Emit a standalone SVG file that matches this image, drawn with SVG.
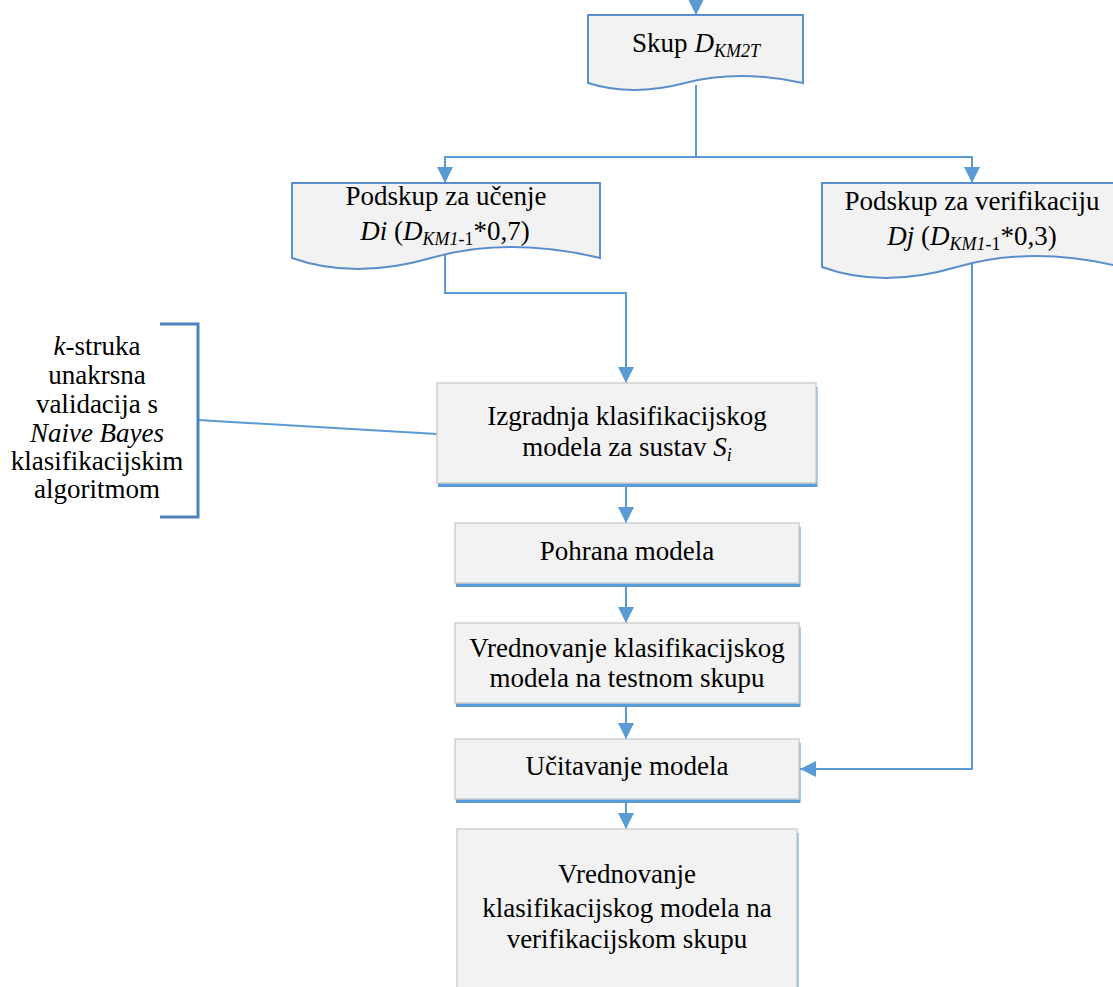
<svg xmlns="http://www.w3.org/2000/svg" width="1113" height="987" viewBox="0 0 1113 987">
<style>
.t{font-family:"Liberation Serif","Times New Roman",serif;font-size:27px;fill:#000;text-anchor:middle}
.s{font-size:18px}
.i{font-style:italic}
.doc{fill:#F2F2F2;stroke:#5B8FCB;stroke-width:2}
.box{fill:#F2F2F2;stroke:#CFCFCF;stroke-width:1.5}
.sh{fill:#5B9BD5}
.c{fill:none;stroke:#5B9BD5;stroke-width:2}
</style>
<defs>
<marker id="a" viewBox="0 0 16 16" refX="16" refY="8" markerWidth="16" markerHeight="16" markerUnits="userSpaceOnUse" orient="auto">
<path d="M0,0 L16,8 L0,16 Z" fill="#5B9BD5"/>
</marker>
</defs>
<rect width="1113" height="987" fill="#FFFFFF"/>
<g id="connectors">
<line class="c" x1="696" y1="0" x2="696" y2="15" marker-end="url(#a)"/>
<polyline class="c" points="696,85 696,157"/>
<polyline class="c" points="445,170 445,157 972,157 972,170"/>
<line class="c" x1="445" y1="160" x2="445" y2="183" marker-end="url(#a)"/>
<line class="c" x1="972" y1="160" x2="972" y2="183" marker-end="url(#a)"/>
<polyline class="c" points="445,255 445,293 626,293 626,383" marker-end="url(#a)"/>
<polyline class="c" points="972,262 972,769 800,769" marker-end="url(#a)"/>
<line class="c" x1="626" y1="487" x2="626" y2="523" marker-end="url(#a)"/>
<line class="c" x1="626" y1="587" x2="626" y2="623" marker-end="url(#a)"/>
<line class="c" x1="626" y1="707" x2="626" y2="739" marker-end="url(#a)"/>
<line class="c" x1="626" y1="803" x2="626" y2="829" marker-end="url(#a)"/>
<line x1="198" y1="420" x2="437" y2="434" stroke="#5B9BD5" stroke-width="2"/>
</g>
<g id="skup">
<path class="doc" d="M588,15 L803,15 L803,83 Q738,69 685,83 T588,83 Z"/>
<text class="t" x="696" y="52">Skup <tspan class="i">D</tspan><tspan class="i s" dy="5">KM2T</tspan></text>
</g>
<g id="ucenje">
<path class="doc" d="M292,183 L600,183 L600,258 Q508,236 431,258 T292,258 Z"/>
<text class="t" x="446" y="205">Podskup za učenje</text>
<text class="t" x="445" y="240"><tspan class="i">Di</tspan> (<tspan class="i">D</tspan><tspan class="i s" dy="5">KM1</tspan><tspan class="s">-1</tspan><tspan dy="-5">*0,7)</tspan></text>
</g>
<g id="verifikacija">
<path class="doc" d="M822,183 L1122,183 L1122,267 Q1032,245 957,267 T822,267 Z"/>
<text class="t" x="972" y="210">Podskup za verifikaciju</text>
<text class="t" x="972" y="245"><tspan class="i">Dj</tspan> (<tspan class="i">D</tspan><tspan class="i s" dy="5">KM1</tspan><tspan class="s">-1</tspan><tspan dy="-5">*0,3)</tspan></text>
</g>
<g id="bracket">
<polyline points="160,324 198,324 198,517 160,517" fill="none" stroke="#4F81BD" stroke-width="3"/>
<text class="t" x="97" y="355"><tspan class="i">k</tspan>-struka</text>
<text class="t" x="97" y="384">unakrsna</text>
<text class="t" x="97" y="413">validacija s</text>
<text class="t" x="97" y="442"><tspan class="i">Naive Bayes</tspan></text>
<text class="t" x="97" y="470">klasifikacijskim</text>
<text class="t" x="97" y="498">algoritmom</text>
</g>
<g id="izgradnja">
<rect class="sh" x="438" y="387" width="379.5" height="100"/>
<rect class="box" x="437" y="383" width="379" height="100"/>
<text class="t" x="627" y="425">Izgradnja klasifikacijskog</text>
<text class="t" x="627" y="456">modela za sustav <tspan class="i">S</tspan><tspan class="i s" dy="5">i</tspan></text>
</g>
<g id="pohrana">
<rect class="sh" x="456" y="527" width="344.5" height="60"/>
<rect class="box" x="455" y="523" width="344" height="60"/>
<text class="t" x="627" y="560">Pohrana modela</text>
</g>
<g id="vrednovanje-test">
<rect class="sh" x="456" y="627" width="344.5" height="80"/>
<rect class="box" x="455" y="623" width="344" height="80"/>
<text class="t" x="627" y="657">Vrednovanje klasifikacijskog</text>
<text class="t" x="627" y="687">modela na testnom skupu</text>
</g>
<g id="ucitavanje">
<rect class="sh" x="456" y="743" width="344.5" height="60"/>
<rect class="box" x="455" y="739" width="344" height="60"/>
<text class="t" x="627" y="775">Učitavanje modela</text>
</g>
<g id="vrednovanje-ver">
<rect class="sh" x="458" y="833" width="340.5" height="200"/>
<rect class="box" x="457" y="829" width="340" height="200"/>
<text class="t" x="627" y="883">Vrednovanje</text>
<text class="t" x="627" y="917">klasifikacijskog modela na</text>
<text class="t" x="627" y="948">verifikacijskom skupu</text>
</g>
</svg>
